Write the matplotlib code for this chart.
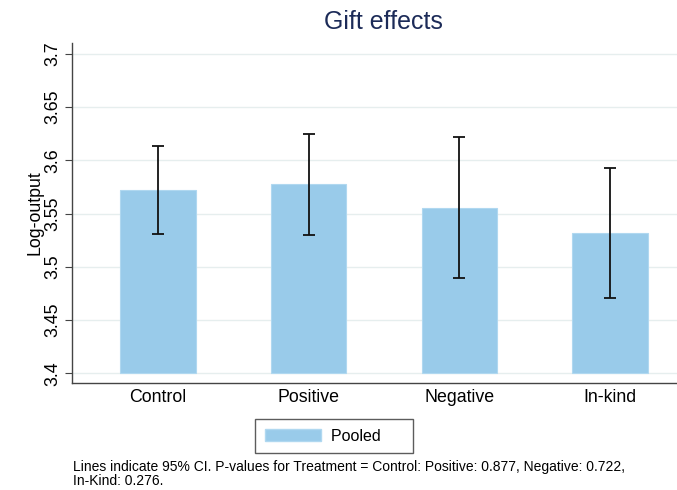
import numpy as np
import matplotlib
matplotlib.use("Agg")
import matplotlib.pyplot as plt
from matplotlib.patches import Patch

plt.rcParams['font.family'] = ['Liberation Sans', 'DejaVu Sans']

groups = ["Control", "Positive", "Negative", "In-kind"]
means = [3.572, 3.578, 3.555, 3.532]
ci_low = [3.531, 3.530, 3.490, 3.471]
ci_high = [3.613, 3.625, 3.622, 3.593]
yticks = [3.4, 3.45, 3.5, 3.55, 3.6, 3.65, 3.7]
ytick_labels = ["3.4", "3.45", "3.5", "3.55", "3.6", "3.65", "3.7"]

bar_color = "#99cbea"

fig = plt.figure(figsize=(6.77, 4.9), dpi=100)
ax = fig.add_axes([0.1064, 0.2184, 0.8936, 0.6936])

x = np.arange(len(groups))
means = np.array(means)
err = [means - np.array(ci_low), np.array(ci_high) - means]

ax.bar(x, means - 3.4, bottom=3.4, width=0.5, color=bar_color,
       edgecolor="#b0d8f0", linewidth=0.8, zorder=2)
ax.errorbar(x, means, yerr=err, fmt='none', ecolor="#111111",
            elinewidth=1.3, capsize=4, capthick=1.3, zorder=3)

ax.set_ylim(3.391, 3.71)
ax.set_xlim(-0.571, 3.445)
ax.set_yticks(yticks)
ax.set_yticklabels(ytick_labels, rotation=90, va='center', fontsize=12.8)
ax.set_xticks(x)
ax.set_xticklabels(groups, fontsize=12.8)
ax.tick_params(axis='x', length=0, pad=4.5)
ax.tick_params(axis='y', length=5, width=0.8, color="#444444", pad=3)
ax.grid(axis='y', color="#e6eeee", linewidth=1.0, zorder=0)
ax.set_axisbelow(True)

for s in ['top', 'right']:
    ax.spines[s].set_visible(False)
for s in ['left', 'bottom']:
    ax.spines[s].set_color("#444444")
    ax.spines[s].set_linewidth(1.0)

ax.set_ylabel("Log-output", fontsize=12.8, labelpad=0)
fig.text(383 / 677, 1 - 22 / 490, "Gift effects", fontsize=18, color="#1c2b58",
         ha='center', va='center')

handle = Patch(facecolor=bar_color, edgecolor="#b0d8f0")
leg = fig.legend([handle], ["Pooled"], loc='center', bbox_to_anchor=(334 / 677, 1 - 436 / 490),
                 frameon=True, fancybox=False, edgecolor="#333333", fontsize=11.5,
                 handlelength=3.55, handleheight=0.8, borderpad=0.6, handletextpad=0.6,
                 borderaxespad=0)
# extra room on the right side of the legend box, like the original
leg.get_texts()[0].set_text("Pooled     ")

fig.text(73 / 677, 1 - 474 / 490,
         "Lines indicate 95% CI. P-values for Treatment = Control: Positive: 0.877, Negative: 0.722,\nIn-Kind: 0.276.",
         fontsize=10, va='center', ha='left', linespacing=1.0)

fig.savefig("out.png", dpi=100)
